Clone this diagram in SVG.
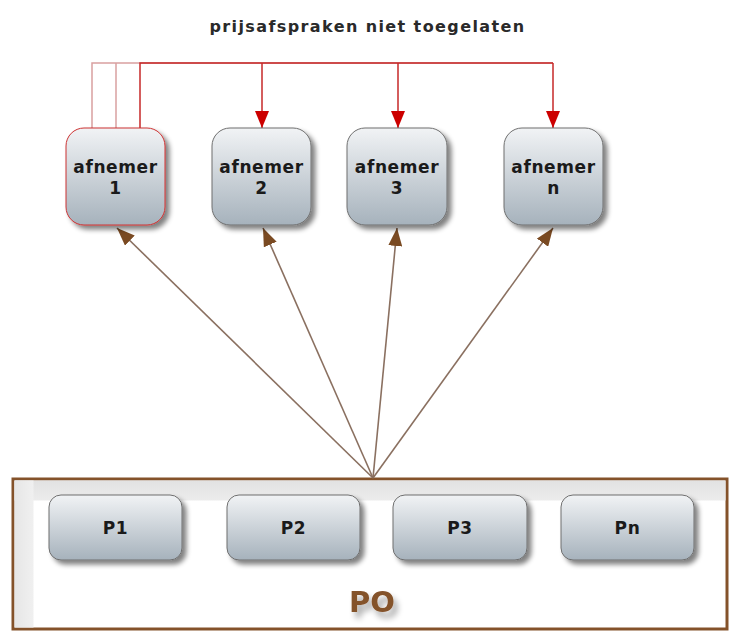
<svg xmlns="http://www.w3.org/2000/svg" width="730" height="631" viewBox="0 0 730 631">
<defs>
<linearGradient id="boxg" x1="0" y1="0" x2="0" y2="1">
<stop offset="0" stop-color="#f1f3f5"/>
<stop offset="1" stop-color="#a6b2bc"/>
</linearGradient>
<linearGradient id="bandTop" x1="0" y1="0" x2="0" y2="1">
<stop offset="0" stop-color="#e2e2e2"/>
<stop offset="1" stop-color="#ececec"/>
</linearGradient>
<linearGradient id="bandLeft" x1="0" y1="0" x2="1" y2="0">
<stop offset="0" stop-color="#e6e6e6"/>
<stop offset="1" stop-color="#f0f0f0"/>
</linearGradient>
<filter id="shadow" x="-20%" y="-20%" width="150%" height="150%">
<feGaussianBlur in="SourceAlpha" stdDeviation="2.5"/>
<feOffset dx="4" dy="4" result="b"/>
<feComponentTransfer><feFuncA type="linear" slope="0.5"/></feComponentTransfer>
<feMerge><feMergeNode/><feMergeNode in="SourceGraphic"/></feMerge>
</filter>
<filter id="tshadow" x="-50%" y="-50%" width="200%" height="200%">
<feGaussianBlur in="SourceAlpha" stdDeviation="3"/>
<feOffset dx="4" dy="6"/>
<feComponentTransfer><feFuncA type="linear" slope="0.35"/></feComponentTransfer>
<feMerge><feMergeNode/><feMergeNode in="SourceGraphic"/></feMerge>
</filter>
<marker id="redArrow" viewBox="0 0 17 14" refX="17" refY="7" markerWidth="17" markerHeight="14" markerUnits="userSpaceOnUse" orient="auto">
<path d="M0,0 L17,7 L0,14 Z" fill="#cc0000"/>
</marker>
<marker id="brownArrow" viewBox="0 0 18 14" refX="18" refY="7" markerWidth="18" markerHeight="14" markerUnits="userSpaceOnUse" orient="auto">
<path d="M0,0 L18,7 L0,14 Z" fill="#7a4a22"/>
</marker>
</defs>
<style>
.box{fill:url(#boxg);stroke:#6f6f6f;stroke-width:1;filter:url(#shadow)}
.lbl{font-family:"DejaVu Sans",Verdana,sans-serif;font-weight:bold;font-size:17px;letter-spacing:0.6px;fill:#1a1a1a;text-anchor:middle}
.red{fill:none;stroke:#c62828;stroke-width:1.5}
.redl{fill:none;stroke:#d9a0a0;stroke-width:1.5}
.brown{fill:none;stroke:#8a7060;stroke-width:1.6}
</style>
<rect width="730" height="631" fill="#ffffff"/>
<text x="367.5" y="32" class="lbl" style="font-size:16px;letter-spacing:1.4px;fill:#2a2a2a">prijsafspraken niet toegelaten</text>

<g id="PO">
<rect x="13" y="479" width="714" height="150" fill="#ffffff" stroke="#84522a" stroke-width="3"/>
<rect x="14.5" y="480.5" width="711" height="20" fill="url(#bandTop)"/>
<rect x="14.5" y="480.5" width="19" height="147" fill="url(#bandLeft)"/>
<text x="372" y="612" style="font-family:'DejaVu Sans',Verdana,sans-serif;font-weight:bold;font-size:29px;fill:#84522a;filter:url(#tshadow)" text-anchor="middle">PO</text>
</g>

<g id="connectors">
<polyline class="redl" points="92,128 92,63 553,63"/>
<polyline class="redl" points="116,128 116,63"/>
<polyline class="red" points="140,128 140,63 553,63"/>
<line class="red" x1="262" y1="63" x2="262" y2="128" marker-end="url(#redArrow)"/>
<line class="red" x1="398" y1="63" x2="398" y2="128" marker-end="url(#redArrow)"/>
<line class="red" x1="553" y1="63" x2="553" y2="128" marker-end="url(#redArrow)"/>
<line class="brown" x1="373" y1="478" x2="117" y2="228" marker-end="url(#brownArrow)"/>
<line class="brown" x1="373" y1="478" x2="263" y2="228" marker-end="url(#brownArrow)"/>
<line class="brown" x1="373" y1="478" x2="397" y2="228" marker-end="url(#brownArrow)"/>
<line class="brown" x1="373" y1="478" x2="553" y2="228" marker-end="url(#brownArrow)"/>
</g>

<g id="afnemer1">
<rect class="box" x="66" y="128" width="99" height="97" rx="18" style="stroke:#cc3333"/>
<text class="lbl" x="115.5" y="173">afnemer</text>
<text class="lbl" x="115.5" y="194">1</text>
</g>
<g id="afnemer2">
<rect class="box" x="212" y="128" width="99" height="97" rx="18"/>
<text class="lbl" x="261.5" y="173">afnemer</text>
<text class="lbl" x="261.5" y="194">2</text>
</g>
<g id="afnemer3">
<rect class="box" x="347" y="128" width="100" height="97" rx="18"/>
<text class="lbl" x="397" y="173">afnemer</text>
<text class="lbl" x="397" y="194">3</text>
</g>
<g id="afnemern">
<rect class="box" x="504" y="128" width="99" height="97" rx="18"/>
<text class="lbl" x="553.5" y="173">afnemer</text>
<text class="lbl" x="553.5" y="194">n</text>
</g>

<g id="P1">
<rect class="box" x="49" y="495" width="133" height="65" rx="12"/>
<text class="lbl" x="115.5" y="534">P1</text>
</g>
<g id="P2">
<rect class="box" x="227" y="495" width="133" height="65" rx="12"/>
<text class="lbl" x="293.5" y="534">P2</text>
</g>
<g id="P3">
<rect class="box" x="393" y="495" width="134" height="65" rx="12"/>
<text class="lbl" x="460" y="534">P3</text>
</g>
<g id="Pn">
<rect class="box" x="561" y="495" width="133" height="65" rx="12"/>
<text class="lbl" x="627.5" y="534">Pn</text>
</g>
</svg>
